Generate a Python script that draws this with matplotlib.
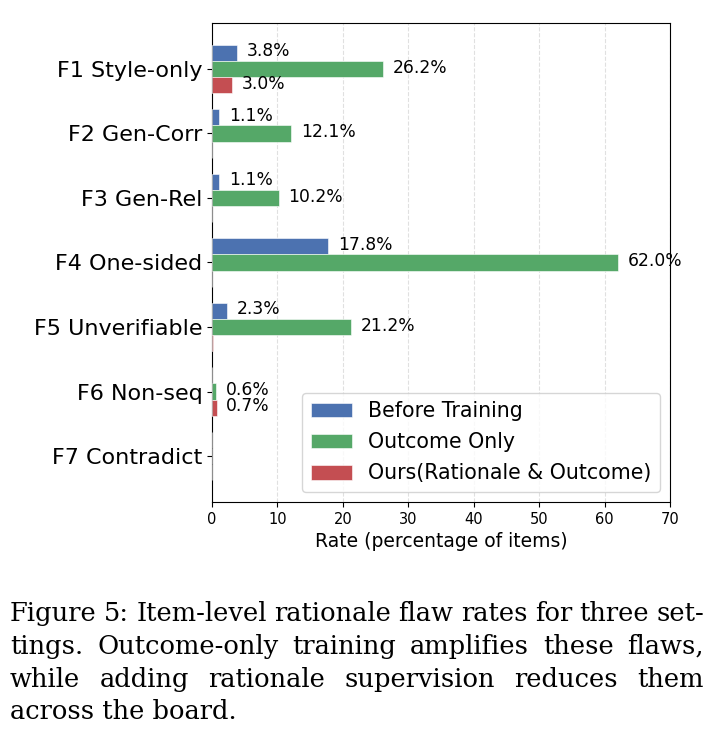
import matplotlib
matplotlib.use("Agg")
import matplotlib.pyplot as plt
import numpy as np

plt.rcParams["font.family"] = "DejaVu Sans"

# ---------------------------------------------------------
# DATA
# ---------------------------------------------------------
categories = ["F1 Style-only", "F2 Gen-Corr", "F3 Gen-Rel", "F4 One-sided",
              "F5 Unverifiable", "F6 Non-seq", "F7 Contradict"]
series_names = ["Before Training", "Outcome Only", "Ours(Rationale & Outcome)"]
before_training = [3.8, 1.1, 1.1, 17.8, 2.3, 0.0, 0.0]
outcome_only = [26.2, 12.1, 10.2, 62.0, 21.2, 0.6, 0.0]
ours = [3.0, 0.0, 0.0, 0.0, 0.1, 0.7, 0.0]
colors = ["#4C72B0", "#55A868", "#C44E52"]

x_ticks = [0, 10, 20, 30, 40, 50, 60, 70]
x_label = "Rate (percentage of items)"

caption_lines = [
    "Figure 5: Item-level rationale flaw rates for three set-",
    "tings. Outcome-only training amplifies these flaws,",
    "while adding rationale supervision reduces them",
    "across the board.",
]

# ---------------------------------------------------------
# PLOT
# ---------------------------------------------------------
W, H = 718, 748
fig = plt.figure(figsize=(W / 100, H / 100), dpi=100)
ax = fig.add_axes([212 / W, 1 - 502 / H, 458 / W, 479 / H])

y = np.arange(len(categories))
h = 0.25
for i, (vals, name, c) in enumerate(zip([before_training, outcome_only, ours], series_names, colors)):
    pos = y + (i - 1) * h
    ax.barh(pos, vals, height=h, color=c, label=name, edgecolor="white", linewidth=0.4, zorder=3)
    for p, v in zip(pos, vals):
        if v >= 0.5:
            ax.annotate(f"{v:.1f}%", xy=(v, p), xytext=(7, 1), textcoords="offset points",
                        va="center", ha="left", fontsize=12.3, zorder=4)

ax.set_yticks(y)
ax.set_yticklabels(categories, fontsize=16)
ax.invert_yaxis()
ax.set_xlim(0, 70)
ax.set_xticks(x_ticks)
ax.tick_params(axis="x", labelsize=10.5)
ax.set_xlabel(x_label, fontsize=13.5, labelpad=4)
ax.grid(axis="x", linestyle="--", color="#cccccc", alpha=0.6, zorder=0)
ax.set_axisbelow(True)
ax.legend(loc="lower right", fontsize=14.8, labelspacing=0.55)

# caption, justified like the paper
fig.canvas.draw()
renderer = fig.canvas.get_renderer()
left, right = 10, 704
baselines = [621, 654, 687, 719]
cap_font = dict(family="DejaVu Serif", fontsize=18.5)
for k, (line, yb) in enumerate(zip(caption_lines, baselines)):
    yf = 1 - yb / H
    words = line.split(" ")
    if k == len(caption_lines) - 1:
        fig.text(left / W, yf, line, va="baseline", ha="left", **cap_font)
        continue
    texts = [fig.text(0, yf, w_, va="baseline", ha="left", **cap_font) for w_ in words]
    widths = [t.get_window_extent(renderer).width for t in texts]
    gap = (right - left - sum(widths)) / (len(words) - 1)
    xpos = left
    for t, wd in zip(texts, widths):
        t.set_x(xpos / W)
        xpos += wd + gap

fig.savefig("out.png", dpi=100)
